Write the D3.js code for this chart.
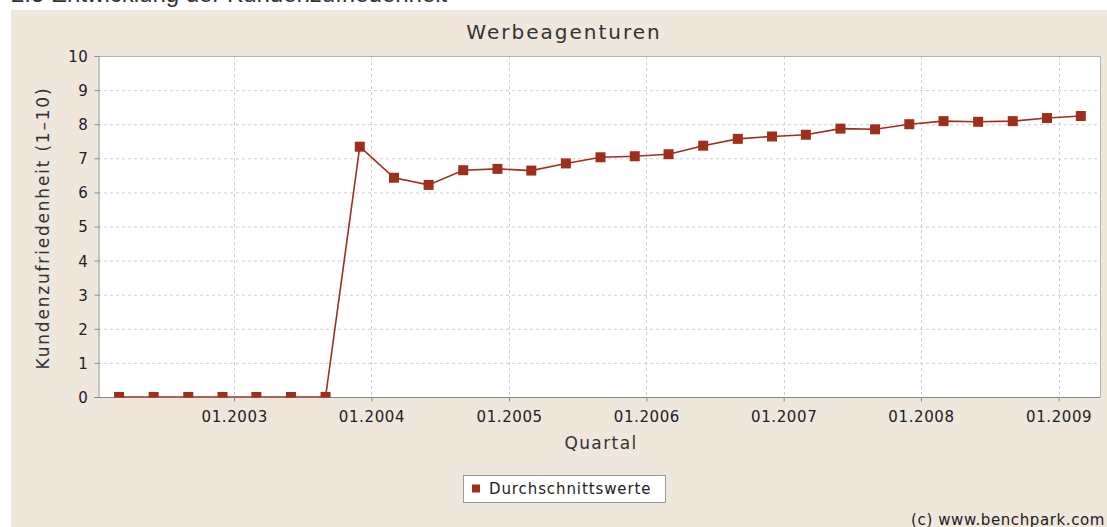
<!DOCTYPE html>
<html>
<head>
<meta charset="utf-8">
<script src="https://cdn.jsdelivr.net/npm/d3@7"></script>
<style>
  html, body { margin: 0; padding: 0; background: #fff; overflow: hidden; }
  svg { display: block; font-family: "DejaVu Sans", sans-serif; }
</style>
</head>
<body>
<svg id="chart" width="1107" height="527"></svg>
<script>
// quarterly survey dates (MM.YYYY) and average satisfaction scores
const quarters = [
  '03.2002', '06.2002', '09.2002', '12.2002',
  '03.2003', '06.2003', '09.2003', '12.2003',
  '03.2004', '06.2004', '09.2004', '12.2004',
  '03.2005', '06.2005', '09.2005', '12.2005',
  '03.2006', '06.2006', '09.2006', '12.2006',
  '03.2007', '06.2007', '09.2007', '12.2007',
  '03.2008', '06.2008', '09.2008', '12.2008',
  '03.2009'
]
const averages = [
  0, 0, 0, 0, 0, 0, 0, 7.34,
  6.43, 6.22, 6.65, 6.69, 6.64, 6.85, 7.03, 7.06,
  7.12, 7.37, 7.57, 7.64, 7.69, 7.87, 7.85, 8.0,
  8.09, 8.07, 8.09, 8.18, 8.24
]
const yTicks = [0, 1, 2, 3, 4, 5, 6, 7, 8, 9, 10]

const parse = d3.timeParse('%m.%Y')
const data = quarters.map((q, i) => ({ date: parse(q), value: averages[i] }))

const svg = d3.select('#chart')
const margin = { left: 98, right: 1100, top: 56, bottom: 397 }
const lineColor = '#9e2f1c'

// page heading, cut off at the top of the screenshot
svg.append('text')
    .attr('x', 11).attr('y', 1.5)
    .attr('font-family', 'Liberation Sans, Arial, sans-serif')
    .attr('font-size', 24)
    .attr('fill', '#333')
    .text('2.5 Entwicklung der Kundenzufriedenheit')

svg.append('rect')
    .attr('x', 11).attr('y', 10)
    .attr('width', 1107 - 11).attr('height', 527 - 10)
    .attr('fill', '#efe6dc')

var x = d3.scaleTime()
    .domain([new Date(2002, 0, 4), new Date(2009, 3, 21)])
    .range([margin.left, margin.right])

var y = d3.scaleLinear()
    .domain([0, 10])
    .range([margin.bottom, margin.top])

svg.append('rect')
    .attr('x', margin.left).attr('y', margin.top)
    .attr('width', margin.right - margin.left)
    .attr('height', margin.bottom - margin.top)
    .attr('fill', '#fff')

const yearTicks = x.ticks(d3.timeYear.every(1))

// dashed grid
svg.append('g')
    .attr('stroke', '#cfcfcf')
    .attr('stroke-dasharray', '3,3')
  .selectAll('line.h')
  .data(yTicks.filter(d => d > 0 && d < 10))
  .enter().append('line')
    .attr('x1', margin.left).attr('x2', margin.right)
    .attr('y1', d => y(d) + 0.5).attr('y2', d => y(d) + 0.5)

svg.append('g')
    .attr('stroke', '#cfcfcf')
    .attr('stroke-dasharray', '3,3')
  .selectAll('line.v')
  .data(yearTicks)
  .enter().append('line')
    .attr('x1', d => Math.round(x(d)) + 0.5).attr('x2', d => Math.round(x(d)) + 0.5)
    .attr('y1', margin.top).attr('y2', margin.bottom)

// plot border (top + right)
svg.append('path')
    .attr('d', `M${margin.left},${margin.top + 0.5}H${margin.right + 0.5}V${margin.bottom}`)
    .attr('fill', 'none')
    .attr('stroke', '#b4b4b4')

// axes
var yAxis = svg.append('g')
    .attr('transform', `translate(${margin.left + 0.5},0)`)
    .call(d3.axisLeft(y).tickValues(yTicks).tickSizeOuter(0).tickSize(4).tickPadding(6))
var xAxis = svg.append('g')
    .attr('transform', `translate(0,${margin.bottom + 0.5})`)
    .call(d3.axisBottom(x).tickValues(yearTicks).tickFormat(d3.timeFormat('%m.%Y'))
      .tickSizeOuter(0).tickSize(4).tickPadding(10))

;[yAxis, xAxis].forEach(a => {
  a.select('.domain').attr('stroke', '#8a8a8a')
  a.selectAll('.tick line').attr('stroke', '#8a8a8a')
  a.selectAll('.tick text')
    .attr('fill', '#222')
    .attr('font-size', 15)
    .attr('letter-spacing', '0.6px')
    .attr('font-family', 'DejaVu Sans, sans-serif')
})
xAxis.select('.domain').attr('d', `M${margin.left - 4},0H${margin.right + 0.5}`)
yAxis.selectAll('.tick text').attr('dy', '0.36em')

// axis titles
svg.append('text')
    .attr('x', 601).attr('y', 449)
    .attr('text-anchor', 'middle')
    .attr('font-size', 17)
    .attr('letter-spacing', '1.4px')
    .attr('fill', '#333')
    .text('Quartal')

svg.append('text')
    .attr('transform', 'translate(49,228) rotate(-90)')
    .attr('text-anchor', 'middle')
    .attr('font-size', 17)
    .attr('letter-spacing', '1.8px')
    .attr('fill', '#333')
    .text('Kundenzufriedenheit  (1\u201310)')

svg.append('text')
    .attr('x', 564).attr('y', 39)
    .attr('text-anchor', 'middle')
    .attr('font-size', 20)
    .attr('letter-spacing', '2px')
    .attr('fill', '#333')
    .text('Werbeagenturen')

// series
svg.append('clipPath').attr('id', 'plot-clip')
  .append('rect')
    .attr('x', margin.left).attr('y', margin.top)
    .attr('width', margin.right - margin.left)
    .attr('height', margin.bottom - margin.top + 0.5)

var series = svg.append('g').attr('clip-path', 'url(#plot-clip)')

series.append('path')
    .datum(data)
    .attr('fill', 'none')
    .attr('stroke', lineColor)
    .attr('stroke-width', 1.6)
    .attr('d', d3.line().x(d => x(d.date)).y(d => y(d.value)))

series.selectAll('rect')
  .data(data)
  .enter().append('rect')
    .attr('x', d => x(d.date) - 5)
    .attr('y', d => y(d.value) - 5)
    .attr('width', 10).attr('height', 10)
    .attr('fill', lineColor)

// legend
var legend = svg.append('g').attr('transform', 'translate(463,475)')
legend.append('rect')
    .attr('x', 0.5).attr('y', 0.5)
    .attr('width', 202).attr('height', 27)
    .attr('fill', '#fff')
    .attr('stroke', '#9a9a9a')
legend.append('rect')
    .attr('x', 9).attr('y', 9.5)
    .attr('width', 8).attr('height', 8)
    .attr('fill', lineColor)
legend.append('text')
    .attr('x', 26).attr('y', 19)
    .attr('font-size', 15)
    .attr('letter-spacing', '0.9px')
    .attr('fill', '#222')
    .text('Durchschnittswerte')

svg.append('text')
    .attr('x', 1105).attr('y', 525)
    .attr('text-anchor', 'end')
    .attr('font-size', 15)
    .attr('letter-spacing', '0.6px')
    .attr('fill', '#222')
    .text('(c) www.benchpark.com')
</script>
</body>
</html>
